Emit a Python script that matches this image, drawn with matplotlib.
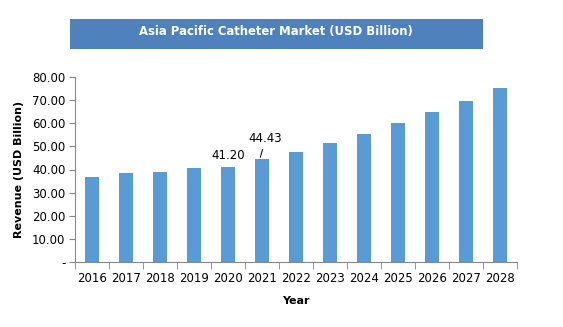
import matplotlib
matplotlib.use("Agg")
import matplotlib.pyplot as plt
from matplotlib.patches import Rectangle

years = ["2016", "2017", "2018", "2019", "2020", "2021", "2022",
         "2023", "2024", "2025", "2026", "2027", "2028"]
revenue = [36.8, 38.3, 38.9, 40.6, 41.20, 44.43, 47.6,
           51.5, 55.4, 60.1, 64.9, 69.6, 75.2]
yticks = [0, 10, 20, 30, 40, 50, 60, 70, 80]
ytick_labels = ["-", "10.00", "20.00", "30.00", "40.00", "50.00",
                "60.00", "70.00", "80.00"]
title = "Asia Pacific Catheter Market (USD Billion)"

W, H = 563, 327
fig = plt.figure(figsize=(W / 100, H / 100), dpi=100)
fig.patch.set_facecolor("white")

# title banner
fig.patches.append(Rectangle((70 / W, 1 - 49 / H), 413 / W, 30 / H,
                             transform=fig.transFigure, facecolor="#4F81BD",
                             edgecolor="none"))
fig.text(276 / W, 1 - 31 / H, title, color="white", fontsize=8.4,
         fontweight="bold", ha="center", va="center")

ax = fig.add_axes([75 / W, 1 - 262 / H, 442 / W, 185 / H])
x = list(range(len(years)))
ax.bar(x, revenue, width=0.39, color="#5B9BD5")
ax.set_xlim(-0.5, len(years) - 0.5)
ax.set_ylim(0, 80)

ax.set_yticks(yticks)
ax.set_yticklabels(ytick_labels, fontsize=8.5)
ax.set_xticks(x)
ax.set_xticklabels(years, fontsize=8.5)
ax.tick_params(axis="x", length=0, pad=7)
ax.set_xticks([i - 0.5 for i in range(len(years) + 1)], minor=True)
ax.tick_params(axis="x", which="minor", length=5, color="#888888")
ax.tick_params(axis="y", length=4, color="#888888", pad=3)

for s in ["top", "right"]:
    ax.spines[s].set_visible(False)
for s in ["left", "bottom"]:
    ax.spines[s].set_color("#888888")

ax.set_ylabel("Revenue (USD Billion)", fontsize=8, fontweight="bold",
              labelpad=6)
ax.set_xlabel("Year", fontsize=8, fontweight="bold", labelpad=8)

# value labels
i20 = years.index("2020")
ax.text(i20, revenue[i20] + 2.0, f"{revenue[i20]:.2f}", ha="center",
        va="bottom", fontsize=8.5)
i21 = years.index("2021")
ax.annotate(f"{revenue[i21]:.2f}", xy=(i21 - 0.05, revenue[i21] + 0.8),
            xytext=(i21 + 0.1, revenue[i21] + 6.0), ha="center",
            va="bottom", fontsize=8.5,
            arrowprops=dict(arrowstyle="-", color="black", lw=0.7,
                            shrinkA=1, shrinkB=0))

fig.savefig("out.png", dpi=100)
